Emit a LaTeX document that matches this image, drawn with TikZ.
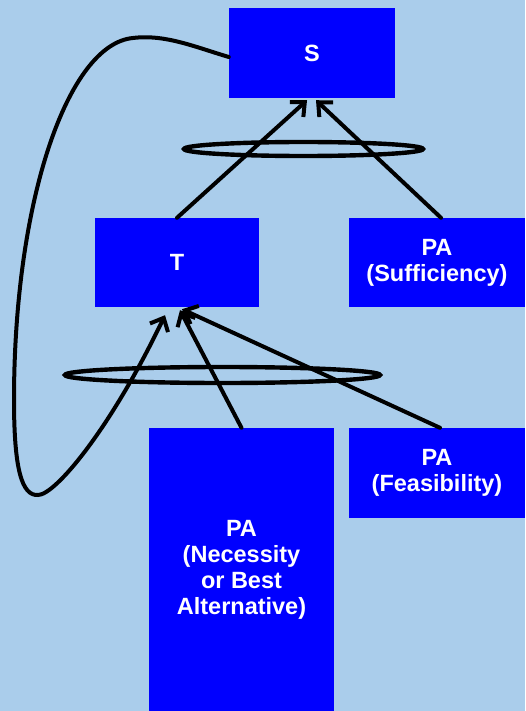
\documentclass[tikz,border=0pt]{standalone}
\usepackage{fontspec}
\setmainfont{Liberation Sans}
\usetikzlibrary{arrows.meta,calc}
\definecolor{bg}{RGB}{170,205,235}
\definecolor{boxblue}{RGB}{0,0,255}
\begin{document}
\begin{tikzpicture}[x=1pt,y=-1pt,
  box/.style={fill=boxblue, draw=none, text=white,
    font=\fontsize{23.5}{26}\selectfont\bfseries, align=center, inner sep=0pt},
  link/.style={line width=4pt, line cap=round,
    -{Straight Barb[length=11pt,width=20pt]}},
  ring/.style={line width=4.4pt}]
% canvas
\fill[bg] (0,0) rectangle (525,711);
\useasboundingbox (0,0) rectangle (525,711);

% boxes
\node[box, minimum width=166pt, minimum height=90pt] (S)    at (312,53)    {S};
\node[box, minimum width=164pt, minimum height=89pt] (T)    at (177,262.5) {T};
\node[box, minimum width=176pt, minimum height=89pt] (suff) at (437,262.5) {PA\\(Sufficiency)};
\node[box, minimum width=176pt, minimum height=90pt] (feas) at (437,473)   {PA\\(Feasibility)};
\node[box, minimum width=185pt, minimum height=283pt] (nec) at (241.5,569.5)
  {PA\\(Necessity\\or Best\\Alternative)};

% conjunction rings
\draw[ring] (303.5,149) ellipse [x radius=119.5, y radius=7];
\draw[ring] (222.5,375) ellipse [x radius=157.5, y radius=8];

% support links into S
\draw[link] (T.north) -- ([xshift=-5pt,yshift=-2pt]S.south);
\draw[link] ([xshift=4pt]suff.north) -- ([xshift=4pt,yshift=-2pt]S.south);

% support links into T
\draw[link] (nec.north) -- ([xshift=3pt,yshift=-3pt]T.south);
\draw[link] ([xshift=3pt]feas.north) -- ([xshift=5pt,yshift=-2pt]T.south);

% feedback loop from S round to T
\coordinate (loopstart) at ([yshift=-4pt]S.west);
\draw[link] (loopstart)
  .. controls (195,47) and (165,34) .. (133,38)
  .. controls (68,44) and (14,200) .. (14,400)
  .. controls (14,470) and (22,496) .. (38,495)
  .. controls (55,495) and (110,430) .. ([xshift=-12pt,yshift=-8pt]T.south);
\end{tikzpicture}
\end{document}
